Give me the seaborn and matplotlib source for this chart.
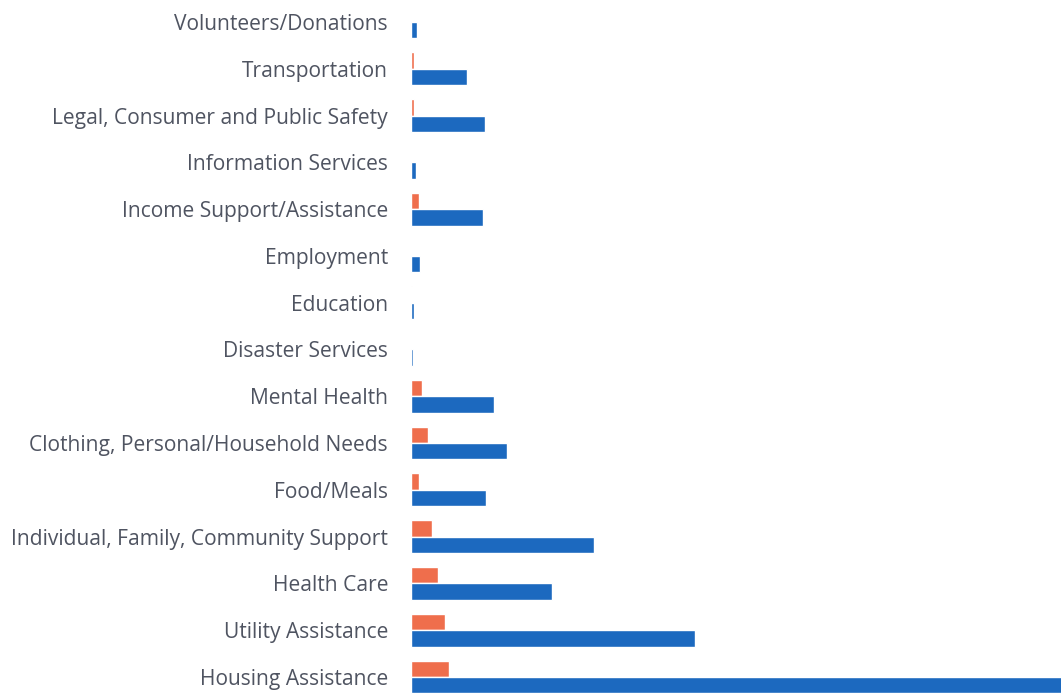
import matplotlib
matplotlib.use("Agg")
import matplotlib.pyplot as plt
import seaborn as sns
import pandas as pd

categories = [
    "Volunteers/Donations",
    "Transportation",
    "Legal, Consumer and Public Safety",
    "Information Services",
    "Income Support/Assistance",
    "Employment",
    "Education",
    "Disaster Services",
    "Mental Health",
    "Clothing, Personal/Household Needs",
    "Food/Meals",
    "Individual, Family, Community Support",
    "Health Care",
    "Utility Assistance",
    "Housing Assistance",
]
series_a = [0, 3, 3, 0, 8, 0, 1, 0, 11, 17, 8, 21, 27, 34, 38]
series_b = [6, 56, 74, 5, 72, 9, 3, 1.5, 83, 96, 75, 183, 141, 284, 680]
series_names = ["Series A", "Series B"]

df = pd.DataFrame({
    "category": categories * 2,
    "series": [series_names[0]] * len(categories) + [series_names[1]] * len(categories),
    "value": series_a + series_b,
})

sns.set_theme(style="white")
plt.rcParams["font.family"] = ["Open Sans", "DejaVu Sans"]

fig = plt.figure(figsize=(10.61, 6.94), dpi=100)
ax = fig.add_axes([411 / 1061, 0, 1 - 411 / 1061, 1])

sns.barplot(
    data=df, x="value", y="category", hue="series",
    order=categories, hue_order=series_names,
    palette=["#EF6E4C", "#1C69BF"], width=0.70, orient="h",
    saturation=1, legend=False, ax=ax,
)

ax.set_xlim(0, 650)
ax.set_ylim(14 + 17 / 46.8, -22 / 46.8)
ax.set_xlabel("")
ax.set_ylabel("")
ax.set_xticks([])
for s in ax.spines.values():
    s.set_visible(False)
ax.tick_params(axis="y", length=0, pad=16.5, labelsize=15.1, labelcolor="#4F5461")

fig.savefig("out.png", dpi=100)
